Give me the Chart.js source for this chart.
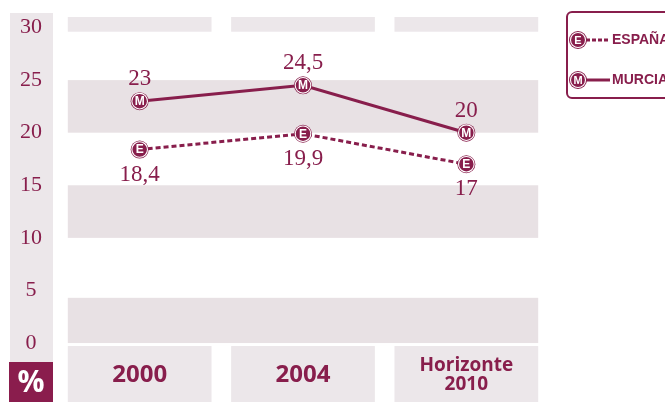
<!DOCTYPE html>
<html><head><meta charset="utf-8">
<script src="https://cdn.jsdelivr.net/npm/chart.js@4.4.0/dist/chart.umd.min.js"></script>
<style>html,body{margin:0;padding:0;background:#fff;overflow:hidden;}#wrap{position:relative;width:665px;height:402px;}</style>
</head><body><div id="wrap"><canvas id="c" width="665" height="402"></canvas></div>
<script>
const categories = [['2000'], ['2004'], ['Horizonte', '2010']];
const murcia = [23, 24.5, 20];
const espana = [18.4, 19.9, 17];
const seriesNames = ['ESPAÑA', 'MURCIA'];
const seriesLetters = ['E', 'M'];
const yTicks = [0, 5, 10, 15, 20, 25, 30];
const bands = [[20, 25], [10, 15], [0, 4.3]];
const unitLabel = '%';

const MAROON = '#881e4c';
const GRAY = '#e8e1e4';
const CELL = '#ece7ea';

const fmt = v => String(v).replace('.', ',');

const decor = {
  id: 'decor',
  beforeDraw(chart) {
    const {ctx, chartArea: a, scales: {x, y}} = chart;
    ctx.save();
    ctx.fillStyle = '#fff';
    ctx.fillRect(0, 0, chart.width, chart.height);
    ctx.fillStyle = CELL;
    ctx.fillRect(10, 13, 43, 349);
    const step = x.getPixelForValue(1) - x.getPixelForValue(0);
    const hw = step * 0.44;
    const left = x.getPixelForValue(0) - hw;
    const right = x.getPixelForValue(categories.length - 1) + hw;
    ctx.fillStyle = GRAY;
    bands.forEach(([lo, hi]) => {
      const t = y.getPixelForValue(hi), b = y.getPixelForValue(lo);
      ctx.fillRect(left, t, right - left, b - t);
    });
    categories.forEach((c, i) => {
      const cx = x.getPixelForValue(i);
      ctx.fillStyle = CELL;
      ctx.fillRect(cx - hw, a.top, 2 * hw, y.getPixelForValue(29.6) - a.top);
      ctx.fillRect(cx - hw, a.bottom + 3, 2 * hw, chart.height - a.bottom - 3);
    });
    ctx.restore();
  },
  afterDatasetsDraw(chart) {
    const {ctx} = chart;
    ctx.save();
    chart.data.datasets.forEach((ds, di) => {
      const meta = chart.getDatasetMeta(di);
      meta.data.forEach((pt, i) => {
        ctx.strokeStyle = '#fff';
        ctx.lineWidth = 1.1;
        ctx.beginPath();
        ctx.arc(pt.x, pt.y, 7.8, 0, Math.PI * 2);
        ctx.stroke();
        ctx.fillStyle = '#fff';
        ctx.font = 'bold 12px "Liberation Sans"';
        ctx.textAlign = 'center';
        ctx.textBaseline = 'middle';
        ctx.fillText(ds.letter, pt.x, pt.y + 0.5);
        ctx.fillStyle = MAROON;
        ctx.font = '23px "Liberation Serif"';
        const dy = ds.letter === 'M' ? -22 : 25;
        ctx.fillText(fmt(ds.data[i]), pt.x, pt.y + dy);
      });
    });
    ctx.restore();
  },
  afterDraw(chart) {
    const {ctx} = chart;
    ctx.save();
    ctx.fillStyle = '#8a1d4d';
    ctx.fillRect(9, 362, 44, 40);
    ctx.fillStyle = '#fff';
    ctx.font = 'bold 30px "Open Sans"';
    ctx.textAlign = 'center';
    ctx.textBaseline = 'middle';
    ctx.fillText(unitLabel, 31, 383);
    ctx.strokeStyle = MAROON;
    ctx.lineWidth = 2;
    ctx.beginPath();
    ctx.roundRect(567, 12, 130, 86, 5);
    ctx.stroke();
    const rows = [{y: 40, dash: [4, 2], letter: seriesLetters[0], name: seriesNames[0]},
                  {y: 80, dash: [], letter: seriesLetters[1], name: seriesNames[1]}];
    rows.forEach(r => {
      ctx.strokeStyle = MAROON;
      ctx.lineWidth = 3;
      ctx.setLineDash(r.dash);
      ctx.beginPath();
      ctx.moveTo(586, r.y);
      ctx.lineTo(610, r.y);
      ctx.stroke();
      ctx.setLineDash([]);
      ctx.fillStyle = MAROON;
      ctx.beginPath();
      ctx.arc(578, r.y, 9, 0, Math.PI * 2);
      ctx.fill();
      ctx.strokeStyle = '#fff';
      ctx.lineWidth = 1.1;
      ctx.beginPath();
      ctx.arc(578, r.y, 7.5, 0, Math.PI * 2);
      ctx.stroke();
      ctx.fillStyle = '#fff';
      ctx.font = 'bold 11px "Liberation Sans"';
      ctx.textAlign = 'center';
      ctx.fillText(r.letter, 578, r.y + 0.5);
      ctx.fillStyle = MAROON;
      ctx.font = 'bold 14px "Liberation Sans Narrow", "Liberation Sans"';
      ctx.textAlign = 'left';
      ctx.fillText(r.name, 612, r.y + 0.5);
    });
    ctx.restore();
  }
};

new Chart(document.getElementById('c'), {
  type: 'line',
  data: {
    labels: categories,
    datasets: [
      {label: seriesNames[1], letter: seriesLetters[1], data: murcia, borderColor: MAROON, borderWidth: 3,
       pointRadius: 9, pointBackgroundColor: MAROON, pointBorderWidth: 0, tension: 0},
      {label: seriesNames[0], letter: seriesLetters[0], data: espana, borderColor: MAROON, borderWidth: 3,
       borderDash: [5, 3], pointRadius: 9, pointBackgroundColor: MAROON, pointBorderWidth: 0, tension: 0}
    ]
  },
  options: {
    responsive: false,
    animation: false,
    layout: {padding: {top: 17, right: 117, bottom: -6, left: 0}},
    plugins: {legend: {display: false}, tooltip: {enabled: false}},
    scales: {
      x: {
        offset: true,
        grid: {display: false, drawTicks: false},
        border: {display: false},
        ticks: {
          padding: 14,
          color: MAROON,
          maxRotation: 0,
          font: (c) => c.index === 2
            ? {family: '"Open Sans"', weight: 'bold', size: 19, lineHeight: 0.95}
            : {family: '"Open Sans"', weight: 'bold', size: 24, lineHeight: 1.54}
        }
      },
      y: {
        min: 0, max: 31,
        grid: {display: false, drawTicks: false},
        border: {display: false},
        afterFit: (s) => { s.width = 58; s.paddingTop = 0; s.paddingBottom = 0; },
        afterBuildTicks: (s) => { s.ticks = yTicks.map(v => ({value: v})); },
        ticks: {
          padding: 16,
          crossAlign: 'center',
          color: MAROON,
          font: {family: '"Liberation Serif"', size: 22}
        }
      }
    }
  },
  plugins: [decor]
});
</script></body></html>
